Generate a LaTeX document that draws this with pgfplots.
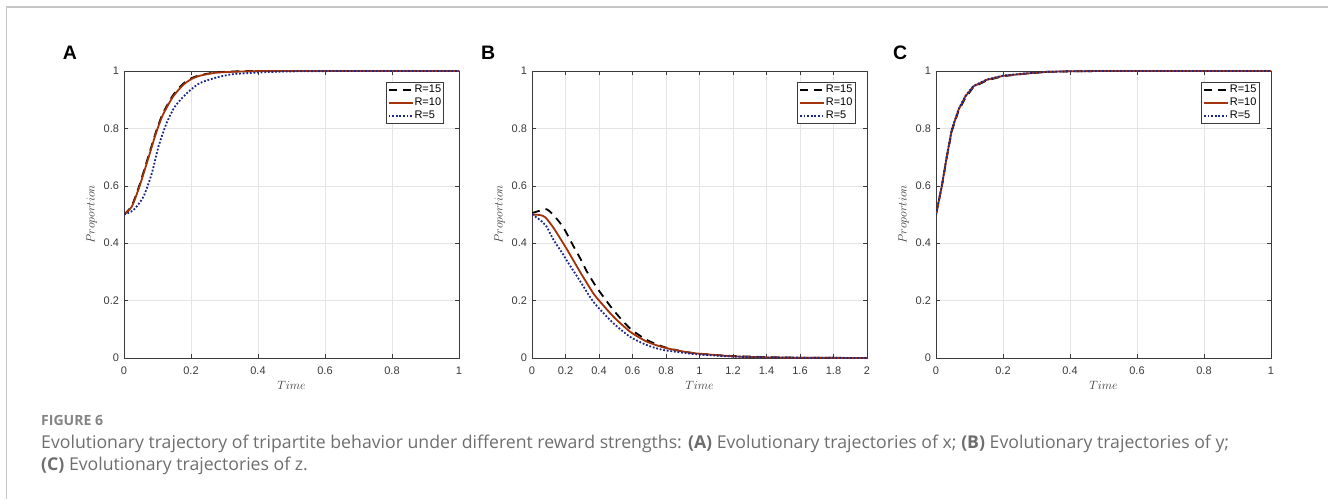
\documentclass[border=0pt]{standalone}
\usepackage{fontspec}
\setmainfont{Liberation Sans}
\newfontfamily\capfont{Open Sans}
\usepackage{pgfplots}
\pgfplotsset{compat=1.18}
\definecolor{axgray}{HTML}{3A3A3A}
\definecolor{gridgray}{HTML}{E4E4E4}
\definecolor{rbrown}{RGB}{162,50,10}
\definecolor{rblue}{RGB}{26,38,140}
\definecolor{capgray}{HTML}{6E6E6E}

\newcommand\capA{Evolutionary trajectory of tripartite behavior under different reward strengths: {\bfseries (A)} Evolutionary trajectories of x; {\bfseries (B)} Evolutionary trajectories of y;}
\newcommand\capB{{\bfseries (C)} Evolutionary trajectories of z.}
\newlength\capw
\newlength\figw

\pgfplotsset{
  panel/.style={
    scale only axis, width=335pt, height=287pt,
    ymin=0, ymax=1, ytick={0,0.2,0.4,0.6,0.8,1},
    axis line style={axgray, line width=0.8pt},
    tick style={axgray, line width=0.6pt},
    major tick length=4pt,
    tick align=inside, tick pos=both,
    grid=major, major grid style={gridgray, line width=0.6pt},
    /pgf/number format/assume math mode=true,
    ticklabel style={font=\fontsize{11}{13}\selectfont, text=axgray},
    xticklabel style={yshift=-5pt},
    yticklabel style={xshift=-1.5pt},
    xlabel={$Time$}, ylabel={$Proportion$},
    label style={font=\fontsize{12.8}{14}\selectfont, text=axgray},
    xlabel style={at={(axis description cs:0.5,-0.094)}, anchor=center},
    ylabel style={at={(axis description cs:-0.0964,0.5)}, anchor=center},
    legend cell align=left,
    legend style={at={(0.965,0.961)}, anchor=north east, draw=axgray, line width=0.6pt, fill=white,
      font=\fontsize{11}{12}\selectfont, inner xsep=1.5pt, inner ysep=1pt, row sep=0pt,
      nodes={inner sep=1pt, text height=8.5pt, text depth=2.5pt, text=black}},
    legend image code/.code={\draw[#1] (0pt,0pt) -- (24pt,0pt);},
  },
  s15/.style={black, line width=1.8pt, dash pattern=on 8pt off 6pt},
  s10/.style={rbrown, line width=1.8pt},
  s5/.style={rblue, line width=1.8pt, dash pattern=on 1.8pt off 1.8pt},
}

\begin{document}%
\settowidth\capw{\capfont\fontsize{10}{12}\selectfont\capA}%
\settowidth\figw{\capfont\bfseries\fontsize{10}{12}\selectfont FIGURE 6}%
\pgfmathsetmacro\capsize{10*1188/\capw}%
\pgfmathsetmacro\figsize{10*62/\figw}%
\begin{tikzpicture}
\useasboundingbox (0pt,0pt) rectangle (1328pt,499pt);
\draw[gray!45, line width=1.5pt] (6.7pt,0pt) -- (6.7pt,492pt) -- (1328pt,492pt);

% Panel A
\begin{axis}[panel, at={(124pt,141pt)}, anchor=south west, xmin=0, xmax=1,
  xtick={0,0.2,0.4,0.6,0.8,1}, legend style={at={(0.955,0.961)}}]
\addplot[s15, smooth, tension=0.4] coordinates {(0,0.5) (0.023,0.53) (0.046,0.602) (0.071,0.696) (0.096,0.79) (0.116,0.852) (0.146,0.915) (0.176,0.955) (0.2,0.974) (0.225,0.985) (0.274,0.995) (0.344,0.999) (0.45,1) (1,1)};
\addplot[s10, smooth, tension=0.4] coordinates {(0,0.5) (0.023,0.527) (0.046,0.597) (0.071,0.69) (0.096,0.785) (0.116,0.847) (0.146,0.91) (0.176,0.951) (0.2,0.971) (0.225,0.983) (0.274,0.994) (0.344,0.998) (0.45,1) (1,1)};
\addplot[s5, smooth, tension=0.4] coordinates {(0,0.5) (0.028,0.515) (0.058,0.562) (0.083,0.643) (0.103,0.737) (0.127,0.818) (0.152,0.876) (0.187,0.922) (0.225,0.957) (0.275,0.977) (0.325,0.989) (0.424,0.996) (0.52,0.999) (0.7,1) (1,1)};
\legend{R=15,R=10,R=5}
\end{axis}

% Panel B
\begin{axis}[panel, at={(532pt,141pt)}, anchor=south west, xmin=0, xmax=2,
  xtick={0,0.2,0.4,0.6,0.8,1,1.2,1.4,1.6,1.8,2}]
\addplot[s15, smooth, tension=0.4] coordinates {(0,0.505) (0.04,0.512) (0.088,0.518) (0.13,0.497) (0.187,0.455) (0.247,0.39) (0.287,0.348) (0.327,0.302) (0.386,0.246) (0.486,0.167) (0.585,0.103) (0.685,0.063) (0.784,0.039) (0.88,0.025) (0.98,0.016) (1.16,0.008) (1.4,0.003) (1.6,0.001) (2,0)};
\addplot[s10, smooth, tension=0.4] coordinates {(0,0.5) (0.048,0.498) (0.08,0.49) (0.13,0.452) (0.207,0.38) (0.287,0.3) (0.366,0.225) (0.386,0.21) (0.486,0.144) (0.585,0.092) (0.685,0.057) (0.784,0.037) (0.88,0.025) (0.98,0.016) (1.2,0.006) (1.4,0.002) (1.6,0.001) (2,0)};
\addplot[s5, smooth, tension=0.4] coordinates {(0,0.5) (0.048,0.481) (0.088,0.457) (0.127,0.413) (0.187,0.36) (0.207,0.34) (0.287,0.268) (0.346,0.213) (0.386,0.182) (0.486,0.121) (0.585,0.074) (0.685,0.045) (0.784,0.028) (0.98,0.013) (1.2,0.005) (1.4,0.002) (2,0)};
\legend{R=15,R=10,R=5}
\end{axis}

% Panel C
\begin{axis}[panel, at={(936pt,141pt)}, anchor=south west, xmin=0, xmax=1,
  xtick={0,0.2,0.4,0.6,0.8,1}]
\addplot[s15] coordinates {(0,0.5) (0.017,0.595) (0.032,0.698) (0.047,0.79) (0.067,0.86) (0.087,0.905) (0.111,0.943) (0.151,0.967) (0.2,0.982) (0.26,0.99) (0.33,0.997) (0.4,0.999) (0.5,1) (1,1)};
\addplot[s10] coordinates {(0,0.5) (0.017,0.597) (0.032,0.7) (0.047,0.794) (0.067,0.864) (0.087,0.91) (0.111,0.946) (0.151,0.969) (0.2,0.983) (0.26,0.99) (0.33,0.997) (0.4,0.999) (0.5,1) (1,1)};
\addplot[s5] coordinates {(0,0.5) (0.017,0.598) (0.032,0.702) (0.047,0.796) (0.067,0.866) (0.087,0.912) (0.111,0.947) (0.151,0.97) (0.2,0.984) (0.26,0.991) (0.33,0.997) (0.4,0.999) (0.5,1) (1,1)};
\legend{R=15,R=10,R=5}
\end{axis}

% panel letters
\node[anchor=base west, inner sep=0, font=\fontsize{19.5}{20}\selectfont\bfseries] at (62.7pt,439pt) {A};
\node[anchor=base west, inner sep=0, font=\fontsize{19.5}{20}\selectfont\bfseries] at (481pt,439pt) {B};
\node[anchor=base west, inner sep=0, font=\fontsize{19.5}{20}\selectfont\bfseries] at (893pt,439pt) {C};

% caption
\node[anchor=base west, inner sep=0, font=\capfont\bfseries\fontsize{\figsize}{14}\selectfont, text=capgray!85] at (41pt,73.5pt) {FIGURE 6};
\node[anchor=base west, inner sep=0, font=\capfont\fontsize{\capsize}{16}\selectfont, text=capgray] at (41pt,51pt) {\capA};
\node[anchor=base west, inner sep=0, font=\capfont\fontsize{\capsize}{16}\selectfont, text=capgray] at (41pt,29pt) {\capB};
\end{tikzpicture}%
\end{document}
